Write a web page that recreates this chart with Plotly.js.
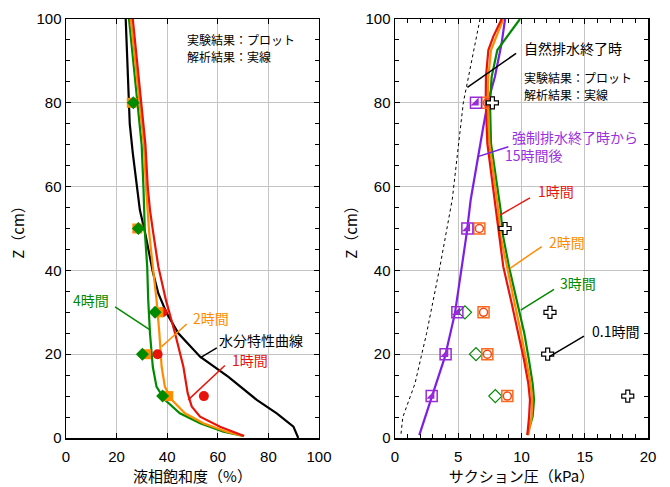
<!DOCTYPE html>
<html>
<head>
<meta charset="utf-8">
<script src="https://cdn.plot.ly/plotly-3.0.1.min.js"></script>
<style>
  html, body { margin: 0; padding: 0; background: #fff; }
  #chart { width: 670px; height: 487px; }
</style>
</head>
<body>
<div id="chart"></div>
<script>
// ---- Left panel: liquid saturation (%) vs depth Z (cm) ----
const retentionZ = [100, 86, 75, 68, 60, 54.4, 48.9, 39.7, 34.5, 29.8, 25, 19.4, 14.6, 9.1, 5.9, 2.7, 0];
const retentionS = [23.6, 24.4, 25.2, 26.4, 28.0, 29.2, 31.3, 34.3, 36.5, 39.8, 44.4, 53.0, 64.2, 75.4, 83.3, 89.9, 91.8];

const sat1hZ = [100, 80, 70, 60, 54.4, 48.9, 40.9, 32.9, 25, 17, 10.7, 7.5, 5.1, 2.7, 0.5];
const sat1hS = [26.4, 29.6, 31.4, 32.3, 33.2, 34.5, 36.5, 39.5, 43.1, 46.4, 48.1, 49.7, 53.0, 60.9, 70.4];

const sat2hZ = [100, 80, 70, 60, 54.4, 48.9, 40.9, 32.9, 25, 17, 12.2, 9.1, 5.9, 3.5, 1.5, 0.5];
const sat2hS = [25.6, 29.2, 30.8, 31.6, 32.2, 32.9, 34.3, 35.8, 36.9, 37.8, 39.1, 41.8, 47.0, 54.3, 63.5, 70.2];

const sat4hZ = [100, 80, 70, 60, 54.4, 48.9, 40.9, 32.9, 25, 17, 12.2, 9.1, 5.9, 3.5, 1.5, 0.5];
const sat4hS = [24.9, 28.2, 29.9, 30.6, 31.0, 31.2, 32.1, 32.5, 33.2, 34.3, 35.8, 39.1, 45.0, 53.0, 62.2, 70.1];

// measured saturation
const expSat1hZ = [30, 20, 10];
const expSat1hS = [38.1, 36.2, 54.5];
const expSat2hZ = [80, 50, 30, 20, 10];
const expSat2hS = [26.0, 28.2, 36.5, 31.6, 40.4];
const expSat4hZ = [80, 50, 30, 20, 10];
const expSat4hS = [26.6, 28.6, 35.2, 30.2, 38.2];

// ---- Right panel: suction (kPa) vs depth Z (cm) ----
const naturalZ = [100, 80, 57, 41, 25, 13, 5, 0.3];
const naturalP = [6.72, 5.4, 4.53, 3.56, 2.5, 1.58, 0.62, 0.45];

const forcedZ = [100, 94.2, 86.2, 80, 74.3, 66.3, 56.8, 48.9, 40.9, 29.8, 19.4, 9.5, 0.7];
const forcedP = [8.7, 8.43, 7.9, 7.33, 6.98, 6.5, 5.98, 5.67, 5.27, 4.74, 3.95, 2.9, 1.92];

const suctionZ = [100, 95.8, 92.6, 86.2, 80, 70.3, 54.4, 48.9, 40.9, 32.9, 25, 18.6, 13, 9.1, 5.1, 0.7];
const suction1hP = [8.43, 7.77, 7.38, 7.19, 7.17, 7.3, 7.98, 8.2, 8.56, 9.17, 9.75, 10.2, 10.54, 10.67, 10.6, 10.46];
const suction2hP = [8.56, 8.0, 7.59, 7.38, 7.33, 7.46, 8.17, 8.3, 8.83, 9.41, 9.96, 10.36, 10.72, 10.85, 10.8, 10.54];
const suction3hP = [9.88, 8.83, 8.09, 7.64, 7.51, 7.59, 8.35, 8.5, 9.01, 9.62, 10.22, 10.59, 10.88, 10.99, 10.88, 10.46];

// measured suction
const expSucZ = [80, 50, 30, 20, 10];
const expSuc01hP = [7.7, 8.7, 12.25, 12.07, 18.4];
const expSuc1hP = [7.3, 6.67, 7.0, 7.3, 8.88];
const expSuc2hP = [7.3, 6.67, 7.0, 7.3, 8.88];
const expSuc3hZ = [30, 20, 10];
const expSuc3hP = [5.53, 6.4, 7.93];
const expForcedP = [6.4, 5.72, 4.93, 4.0, 2.9];

const RED = '#e8140a', ORANGE = '#ff8c00', GREEN = '#008a00', BLACK = '#000000', PURPLE = '#7b1fe8', PURPLE_T = '#9b30e0';
const JP = '"Noto Sans CJK JP", "Noto Sans", sans-serif';

function line(x, y, color, axis, extra) {
  return Object.assign({
    x: x, y: y, type: 'scatter', mode: 'lines',
    line: { color: color, width: 2.2 },
    xaxis: axis[0], yaxis: axis[1], hoverinfo: 'skip', showlegend: false
  }, extra || {});
}
function pts(x, y, axis, marker) {
  return { x: x, y: y, type: 'scatter', mode: 'markers', marker: marker,
           xaxis: axis[0], yaxis: axis[1], hoverinfo: 'skip', showlegend: false };
}
const L = ['x', 'y'], R = ['x2', 'y2'];

const traces = [
  line(retentionS, retentionZ, BLACK, L),
  line(sat4hS, sat4hZ, GREEN, L),
  line(sat2hS, sat2hZ, ORANGE, L),
  line(sat1hS, sat1hZ, RED, L),
  pts(expSat1hS, expSat1hZ, L, { symbol: 'circle', size: 10, color: RED }),
  pts(expSat2hS, expSat2hZ, L, { symbol: 'square', size: 10, color: ORANGE }),
  pts(expSat4hS, expSat4hZ, L, { symbol: 'diamond', size: 10, color: GREEN }),

  line(naturalP, naturalZ, BLACK, R, { line: { color: BLACK, width: 1, dash: 'dot' } }),
  line(forcedP, forcedZ, PURPLE, R),
  line(suction3hP, suctionZ, GREEN, R),
  line(suction2hP, suctionZ, ORANGE, R),
  line(suction1hP, suctionZ, RED, R),
  pts(expSuc3hP, expSuc3hZ, R, { symbol: 'diamond-open', size: 10, color: GREEN, line: { width: 1.2 } }),
  pts(expSuc2hP, expSucZ, R, { symbol: 'square-open', size: 11, color: '#ff6a1a', line: { width: 1.5 } }),
  pts(expSuc1hP, expSucZ, R, { symbol: 'circle-open', size: 8, color: '#f04a1a', line: { width: 1.5 } }),
  pts(expSuc01hP, expSucZ, R, { symbol: 'cross', size: 10, color: '#ffffff', line: { color: BLACK, width: 1.2 } }),
  pts(expForcedP, expSucZ, R, { symbol: 'triangle-se', size: 9, color: '#9a2ad8', line: { width: 0 } }),
  pts(expForcedP, expSucZ, R, { symbol: 'square-open', size: 11, color: '#9a2ad8', line: { width: 1.5 } })
];

function axisBase(extra) {
  return Object.assign({
    showline: true, linecolor: '#000', linewidth: 1.5, mirror: 'allticks',
    ticks: 'inside', ticklen: 5, tickwidth: 1, tickcolor: '#000',
    showgrid: true, gridcolor: '#c4c4c4', gridwidth: 1, zeroline: false,
    tickfont: { family: '"Liberation Sans", Arial, sans-serif', size: 15, color: '#000' },
    fixedrange: true
  }, extra);
}

const titleFont = { family: JP, size: 15, color: '#000' };

const layout = {
  width: 670, height: 487,
  margin: { l: 66, r: 22, t: 19, b: 49 },
  paper_bgcolor: '#fff', plot_bgcolor: '#fff',
  showlegend: false,
  xaxis: axisBase({ domain: [0, 0.4347], range: [0, 100], dtick: 20, tick0: 0, anchor: 'y',
    ticklabelstandoff: 4,
    title: { text: '液相飽和度（%）', font: titleFont, standoff: 8 } }),
  yaxis: axisBase({ domain: [0, 1], range: [0, 100], dtick: 20, tick0: 0, anchor: 'x',
    minor: { dtick: 5, ticks: 'inside', ticklen: 4, tickcolor: '#000', showgrid: false },
    title: { text: 'Z（cm）', font: titleFont, standoff: 8 } }),
  xaxis2: axisBase({ domain: [0.5653, 1], range: [0, 20], dtick: 5, tick0: 0, anchor: 'y2',
    ticklabelstandoff: 4,
    minor: { dtick: 1, ticks: 'inside', ticklen: 4, tickcolor: '#000', showgrid: false },
    title: { text: 'サクション圧（kPa）', font: titleFont, standoff: 8 } }),
  yaxis2: axisBase({ domain: [0, 1], range: [0, 100], dtick: 20, tick0: 0, anchor: 'x2',
    minor: { dtick: 5, ticks: 'inside', ticklen: 4, tickcolor: '#000', showgrid: false },
    title: { text: 'Z（cm）', font: titleFont, standoff: 4 } }),
  shapes: [],
  annotations: []
};

// leader lines and their labels
function label(xr, yr, x, y, text, color, size, anchor) {
  layout.annotations.push({ xref: xr, yref: yr, x: x, y: y, text: text, showarrow: false,
    xanchor: anchor || 'center', yanchor: 'middle', align: 'left',
    font: { family: JP, size: size || 14, color: color } });
}
function leader(xr, yr, x0, y0, x1, y1, color) {
  layout.shapes.push({ type: 'line', xref: xr, yref: yr, x0: x0, y0: y0, x1: x1, y1: y1,
    line: { color: color, width: 1.5 } });
}

// left panel
label('x', 'y', 47, 95.0, '実験結果：プロット', BLACK, 12, 'left');
label('x', 'y', 47, 91.1, '解析結果：実線', BLACK, 12, 'left');
label('x', 'y', 9.9, 32.9, '4時間', GREEN);
leader('x', 'y', 19.4, 31.3, 33.2, 25.8, GREEN);
label('x', 'y', 57.5, 28.6, '2時間', ORANGE);
leader('x', 'y', 47.7, 27.2, 37.8, 21.8, ORANGE);
label('x', 'y', 77.1, 23.4, '水分特性曲線', BLACK);
leader('x', 'y', 59.6, 21.5, 53.0, 19.1, BLACK);
label('x', 'y', 72.9, 18.6, '1時間', RED);
leader('x', 'y', 62.8, 17.3, 48.3, 9.1, RED);

// right panel
label('x2', 'y2', 14.1, 93.1, '自然排水終了時', BLACK);
leader('x2', 'y2', 9.57, 91.8, 5.72, 83.7, BLACK);
label('x2', 'y2', 10.04, 86.0, '実験結果：プロット', BLACK, 12, 'left');
label('x2', 'y2', 10.04, 82.1, '解析結果：実線', BLACK, 12, 'left');
label('x2', 'y2', 8.5, 69.8, '\u2002強制排水終了時から<br>15時間後', PURPLE_T, 14, 'left');
leader('x2', 'y2', 8.96, 69.5, 6.5, 67.1, PURPLE);
label('x2', 'y2', 12.73, 58.9, '1時間', RED);
leader('x2', 'y2', 10.67, 57.3, 8.3, 53.2, RED);
label('x2', 'y2', 13.6, 46.8, '2時間', ORANGE);
leader('x2', 'y2', 11.6, 45.7, 9.09, 40.5, ORANGE);
label('x2', 'y2', 14.47, 37.0, '3時間', GREEN);
leader('x2', 'y2', 12.57, 35.5, 9.94, 30.5, GREEN);
label('x2', 'y2', 17.47, 25.5, '0.1時間', BLACK);
leader('x2', 'y2', 14.94, 24.3, 12.2, 19.4, BLACK);

Plotly.newPlot('chart', traces, layout, { staticPlot: true, displayModeBar: false });
</script>
</body>
</html>
